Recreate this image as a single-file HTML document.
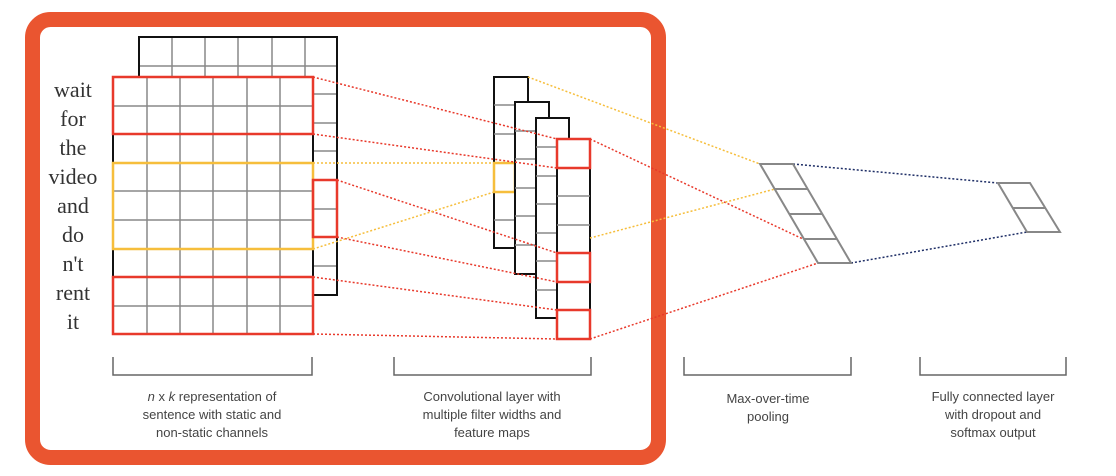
<!DOCTYPE html>
<html><head><meta charset="utf-8"><style>
html,body{margin:0;padding:0;background:#fff;}
svg{display:block;}
.lbl{font-family:"Liberation Sans",sans-serif;font-size:13px;fill:#444;text-anchor:middle;}
.w{font-family:"Liberation Serif",serif;font-size:22px;fill:#333;text-anchor:middle;}
</style></head><body>
<svg width="1116" height="476" viewBox="0 0 1116 476" xmlns="http://www.w3.org/2000/svg">
<rect x="32.5" y="19.5" width="626" height="438" rx="18" fill="none" stroke="#EA5530" stroke-width="15"/>
<!-- back matrix -->
<g stroke="#888" stroke-width="1.5" fill="none">
<path d="M139 66H337M139 94H337M313 123H337M313 151H337M313 180H337M313 209H337M313 237H337M313 266H337"/>
<path d="M172 37V77M205 37V77M238 37V77M272 37V77M305 37V77"/>
</g>
<rect x="139" y="37" width="198" height="258" fill="none" stroke="#111" stroke-width="2"/>
<rect x="113" y="77" width="200" height="257" fill="#fff" stroke="none"/>
<!-- front matrix -->
<g stroke="#888" stroke-width="1.5">
<path d="M113 106H313M113 134H313M113 163H313M113 191H313M113 220H313M113 249H313M113 277H313M113 306H313"/>
<path d="M147 77V334M180 77V334M213 77V334M247 77V334M280 77V334"/>
</g>
<path d="M113 77V334M313 77V334" stroke="#111" stroke-width="2"/>
<rect x="113" y="77" width="200" height="57" fill="none" stroke="#E8392B" stroke-width="2.5"/>
<rect x="113" y="277" width="200" height="57" fill="none" stroke="#E8392B" stroke-width="2.5"/>
<rect x="113" y="163" width="200" height="86" fill="none" stroke="#F6BE3C" stroke-width="2.5"/>
<rect x="313" y="180" width="24" height="57" fill="none" stroke="#E8392B" stroke-width="2.5"/>
<!-- words -->
<g class="w">
<text x="73" y="97">wait</text><text x="73" y="126">for</text><text x="73" y="155">the</text>
<text x="73" y="184">video</text><text x="73" y="213">and</text><text x="73" y="242">do</text>
<text x="73" y="271">n't</text><text x="73" y="300">rent</text><text x="73" y="329">it</text>
</g>
<!-- conv columns -->
<rect x="494" y="77" width="34" height="171" fill="#fff" stroke="#111" stroke-width="2"/>
<path d="M494 105H515M494 134H515M494 220H515" stroke="#888" stroke-width="1.5"/>
<rect x="494" y="163" width="21" height="29" fill="none" stroke="#F6BE3C" stroke-width="2.5"/>
<rect x="515" y="102" width="34" height="172" fill="#fff" stroke="#111" stroke-width="2"/>
<path d="M515 131H536M515 159H536M515 188H536M515 216H536M515 245H536" stroke="#888" stroke-width="1.5"/>
<rect x="536" y="118" width="33" height="200" fill="#fff" stroke="#111" stroke-width="2"/>
<path d="M536 147H557M536 176H557M536 204H557M536 233H557M536 261H557M536 290H557" stroke="#888" stroke-width="1.5"/>
<rect x="557" y="139" width="33" height="200" fill="#fff" stroke="#111" stroke-width="2"/>
<path d="M557 196H590M557 225H590" stroke="#888" stroke-width="1.5"/>
<rect x="557" y="139" width="33" height="29" fill="none" stroke="#E8392B" stroke-width="2.5"/>
<rect x="557" y="253" width="33" height="29" fill="none" stroke="#E8392B" stroke-width="2.5"/>
<rect x="557" y="310" width="33" height="29" fill="none" stroke="#E8392B" stroke-width="2.5"/>
<!-- dotted connectors -->
<g fill="none" stroke-width="1.5" stroke-dasharray="2 2">
<path stroke="#E8392B" d="M313 77L557 139M313 134L557 168M337 180L557 253M337 237L557 282M313 277L557 310M313 334L557 339M590 139L803 239M590 339L818 263"/>
<path stroke="#F6BE3C" d="M313 163L494 163M313 249L494 192M528 77L760 164M590 238L775 189"/>
<path stroke="#1E2E66" d="M793 164L998 183M851 263L1027 232"/>
</g>
<!-- pooling -->
<g stroke="#888" stroke-width="2" fill="none">
<path d="M760 164H793L851 263H818Z"/>
<path d="M775 189H808M789 214H822M804 239H837"/>
<path d="M998 183H1030L1060 232H1027Z"/>
<path d="M1013 208H1045"/>
</g>
<!-- brackets -->
<g stroke="#666" stroke-width="1.5" fill="none">
<path d="M113 357V375H312V357"/>
<path d="M394 357V375H591V357"/>
<path d="M684 357V375H851V357"/>
<path d="M920 357V375H1066V357"/>
</g>
<text class="lbl" x="212" y="401"><tspan font-style="italic">n</tspan> x <tspan font-style="italic">k</tspan> representation of</text>
<text class="lbl" x="212" y="419">sentence with static and</text>
<text class="lbl" x="212" y="437">non-static channels</text>
<text class="lbl" x="492" y="401">Convolutional layer with</text>
<text class="lbl" x="492" y="419">multiple filter widths and</text>
<text class="lbl" x="492" y="437">feature maps</text>
<text class="lbl" x="768" y="403">Max-over-time</text>
<text class="lbl" x="768" y="421">pooling</text>
<text class="lbl" x="993" y="401">Fully connected layer</text>
<text class="lbl" x="993" y="419">with dropout and</text>
<text class="lbl" x="993" y="437">softmax output</text>
</svg>
</body></html>
